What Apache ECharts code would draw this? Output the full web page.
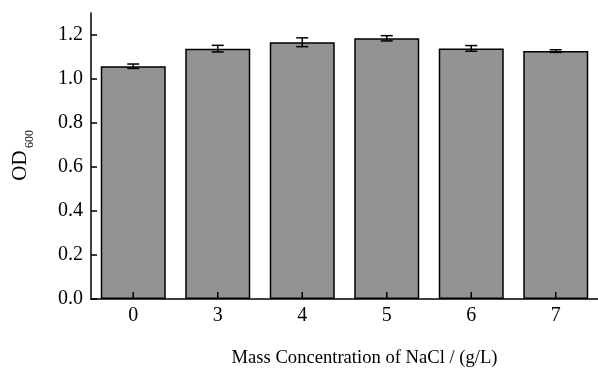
<!DOCTYPE html>
<html>
<head>
<meta charset="utf-8">
<script src="https://cdn.jsdelivr.net/npm/echarts@6/dist/echarts.min.js"></script>
<style>html,body{margin:0;padding:0;background:#fff;}#c{width:598px;height:370px;}</style>
</head>
<body>
<div id="c"></div>
<script>
var categories = ['0', '3', '4', '5', '6', '7'];
var means = [1.058, 1.138, 1.167, 1.185, 1.139, 1.127];
var errors = [0.010, 0.015, 0.020, 0.012, 0.013, 0.006];
var yTicks = [0, 0.2, 0.4, 0.6, 0.8, 1.0, 1.2];

var font = 'Liberation Serif, Times New Roman, serif';
var chart = echarts.init(document.getElementById('c'), null, {renderer: 'canvas'});

var errData = means.map(function (m, i) { return [i, m - errors[i], m + errors[i]]; });

chart.setOption({
  animation: false,
  backgroundColor: '#fff',
  grid: {left: 91, right: 0, top: 13, bottom: 71},
  xAxis: {
    type: 'category',
    data: categories,
    z: 10,
    axisLine: {lineStyle: {color: '#000', width: 1.5}},
    axisTick: {show: false},
    axisLabel: {color: '#000', fontFamily: font, fontSize: 20, margin: 7}
  },
  yAxis: {
    type: 'value',
    min: 0, max: 1.3, interval: 0.2,
    z: 10,
    splitLine: {show: false},
    axisLine: {show: true, lineStyle: {color: '#000', width: 1.5}},
    axisTick: {show: true, inside: true, length: 6, customValues: yTicks, lineStyle: {color: '#000', width: 1.5}},
    axisLabel: {color: '#000', fontFamily: font, fontSize: 20, margin: 8, customValues: yTicks,
      formatter: function (v) { return v.toFixed(1); }}
  },
  graphic: [
    {type: 'text', x: 364.5, y: 358, style: {text: 'Mass Concentration of NaCl / (g/L)', font: '18.6px ' + font, fill: '#000', align: 'center', verticalAlign: 'middle'}},
    {type: 'text', x: 20, y: 165.5, rotation: Math.PI / 2,
      style: {text: 'OD', font: '21px ' + font, fill: '#000', align: 'center', verticalAlign: 'middle'}},
    {type: 'text', x: 29.5, y: 139, rotation: Math.PI / 2,
      style: {text: '600', font: '12px ' + font, fill: '#000', align: 'center', verticalAlign: 'middle'}}
  ],
  series: [
    {
      type: 'bar',
      data: means,
      barWidth: 65,
      itemStyle: {color: '#939396', borderColor: '#000', borderWidth: 1.5}
    },
    {
      type: 'custom',
      data: errData,
      renderItem: function (params, api) {
        var x = api.value(0);
        var lo = api.coord([x, api.value(1)]);
        var hi = api.coord([x, api.value(2)]);
        var base = api.coord([x, 0]);
        var hw = 6;
        var st = {stroke: '#000', lineWidth: 1.5};
        return {type: 'group', children: [
          {type: 'line', shape: {x1: lo[0], y1: lo[1], x2: hi[0], y2: hi[1]}, style: st},
          {type: 'line', shape: {x1: lo[0] - hw, y1: lo[1], x2: lo[0] + hw, y2: lo[1]}, style: st},
          {type: 'line', shape: {x1: hi[0] - hw, y1: hi[1], x2: hi[0] + hw, y2: hi[1]}, style: st},
          {type: 'line', shape: {x1: base[0], y1: base[1], x2: base[0], y2: base[1] - 7}, style: {stroke: '#000', lineWidth: 1.5}}
        ]};
      },
      z: 5
    }
  ]
});
</script>
</body>
</html>
